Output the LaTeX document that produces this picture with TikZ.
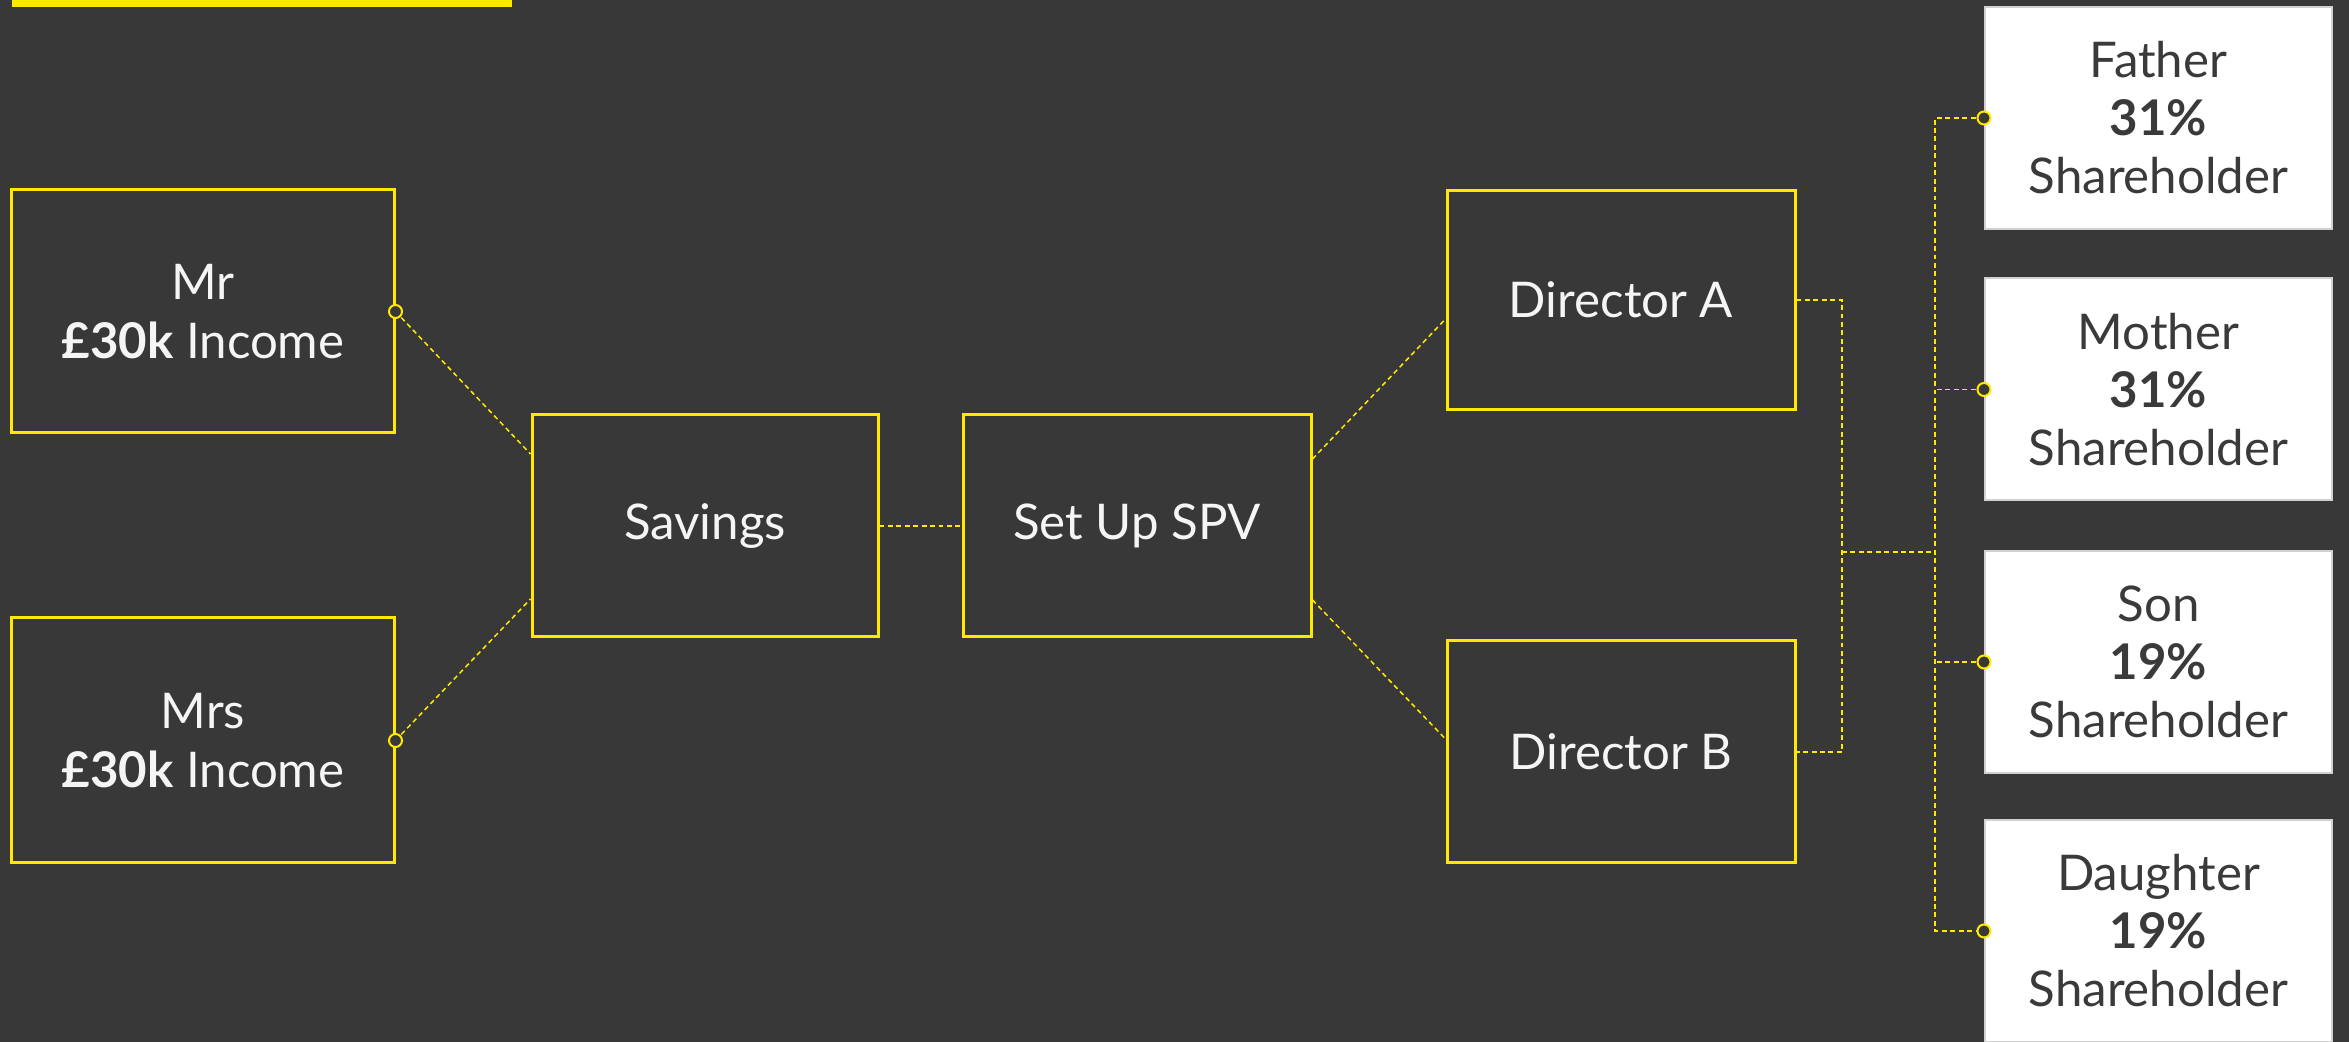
\documentclass[tikz,border=0pt]{standalone}
\usepackage{fontspec}
\setmainfont{Lato}
\usetikzlibrary{calc}
\definecolor{bgdark}{HTML}{383838}
\definecolor{ylw}{HTML}{FFE900}
\definecolor{inkdark}{HTML}{3A3A3A}
\def\dotat(#1){\filldraw[draw=ylw, line width=0.2mm, fill=bgdark] (#1) circle (0.065);}

\begin{document}
\begin{tikzpicture}[
		ybox/.style={draw=ylw, line width=0.3mm, fill=bgdark, text=white!96!black, align=center,
			inner sep=0pt, minimum width=3.48cm, minimum height=2.22cm, font=\fontsize{14}{17}\selectfont},
		wbox/.style={draw=black!18, line width=0.2mm, fill=white, text=inkdark, align=center,
			inner sep=0pt, minimum width=3.47cm, minimum height=2.22cm, font=\fontsize{14}{16.5}\selectfont},
		link/.style={draw=ylw, line width=0.15mm, dash pattern=on 1.4pt off 1pt}
	]
			%%%%% START %%%%%
			
			\useasboundingbox (0, 0) rectangle (23.49, 10.42);
			\fill[bgdark] (0, 0) rectangle (23.49, 10.42);
			\fill[ylw] (0.12, 10.345) rectangle (5.12, 10.42);
			
			% income boxes
			\node[ybox, minimum width=3.82cm, minimum height=2.43cm] (mr) at (2.03, 7.305) {Mr\\\textbf{£30k} Income};
			\node[ybox, minimum width=3.82cm, minimum height=2.45cm] (mrs) at (2.03, 3.015) {Mrs\\\textbf{£30k} Income};
			
			% middle chain
			\node[ybox, minimum width=3.46cm] (savings) at (7.05, 5.16) {Savings};
			\node[ybox] (spv) at (11.37, 5.16) {Set Up SPV};
			
			% directors
			\node[ybox, minimum height=2.19cm] (dira) at (16.21, 7.42) {Director A};
			\node[ybox] (dirb) at (16.21, 2.90) {Director B};
			
			% shareholders
			\node[wbox] (father) at (21.585, 9.24) {Father\\\textbf{31\%}\\Shareholder};
			\node[wbox] (mother) at (21.585, 6.525) {Mother\\\textbf{31\%}\\Shareholder};
			\node[wbox] (son) at (21.585, 3.80) {Son\\\textbf{19\%}\\Shareholder};
			\node[wbox] (daughter) at (21.585, 1.11) {Daughter\\\textbf{19\%}\\Shareholder};
			
			\coordinate (bend) at (18.42, 4.90);
			\coordinate (bus) at (19.35, 0);
			
			\draw[link] (mr.east) -- ([yshift=7.2mm]savings.west);
			\draw[link] (mrs.east) -- ([yshift=-7.3mm]savings.west);
			\draw[link] (savings.east) -- (spv.west);
			\draw[link] ([yshift=6.7mm]spv.east) -- ([yshift=-1.9mm]dira.west);
			\draw[link] ([yshift=-7.4mm]spv.east) -- ([yshift=1.3mm]dirb.west);
			
			\draw[link] (dira.east) -| (bend) |- (dirb.east);
			\draw[link] (bend) -- (bend -| bus);
			\draw[link] (father.west) -| (bus |- daughter.west) -- (daughter.west);
			\draw[link] (mother.west) -- (mother.west -| bus);
			\draw[link] (son.west) -- (son.west -| bus);
			
			\dotat(mr.east)
			\dotat(mrs.east)
			\dotat(father.west)
			\dotat(mother.west)
			\dotat(son.west)
			\dotat(daughter.west)
			
			%%%%% END %%%%%
\end{tikzpicture}
\end{document}
